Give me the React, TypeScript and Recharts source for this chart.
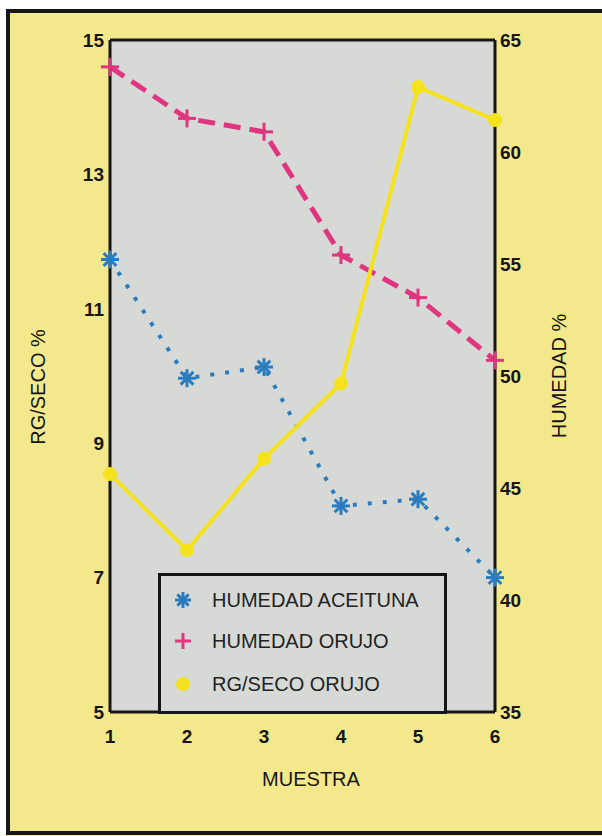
import React from 'react';
import { ComposedChart, Line, XAxis, YAxis, CartesianGrid, ReferenceLine, Legend, Label } from 'recharts';

const muestras = [1, 2, 3, 4, 5, 6];
const humedadAceituna = [55.2, 49.9, 50.4, 44.2, 44.5, 41.0];
const humedadOrujo = [63.8, 61.5, 60.9, 55.4, 53.5, 50.7];
const rgSecoOrujo = [8.54, 7.41, 8.77, 9.89, 14.3, 13.81];
const rgTicks = [5, 7, 9, 11, 13, 15];
const humedadTicks = [35, 40, 45, 50, 55, 60, 65];
const seriesNames = ['HUMEDAD ACEITUNA', 'HUMEDAD ORUJO', 'RG/SECO ORUJO'];

const data = muestras.map((m, i) => ({
  muestra: m,
  aceituna: humedadAceituna[i],
  orujo: humedadOrujo[i],
  rg: rgSecoOrujo[i],
}));

const YELLOW_BG = '#f3e98c';
const GRAY = '#d7d9d6';
const INK = '#161616';
const BLUE = '#2a7cc0';
const PINK = '#e0367f';
const YELLOW = '#f5e21e';
const FONT = '"Liberation Sans", Arial, Helvetica, sans-serif';

function Asterisk({ cx, cy, r = 8 }: { cx: number; cy: number; r?: number }) {
  return (
    <g>
      {[0, 45, 90, 135].map((a) => {
        const rad = (a * Math.PI) / 180;
        const dx = r * Math.cos(rad);
        const dy = r * Math.sin(rad);
        return <line key={a} x1={cx - dx} y1={cy - dy} x2={cx + dx} y2={cy + dy} stroke={BLUE} strokeWidth={3} />;
      })}
    </g>
  );
}

function Plus({ cx, cy, r = 8 }: { cx: number; cy: number; r?: number }) {
  return (
    <g>
      <line x1={cx - r} y1={cy} x2={cx + r} y2={cy} stroke={PINK} strokeWidth={3} />
      <line x1={cx} y1={cy - r} x2={cx} y2={cy + r} stroke={PINK} strokeWidth={3} />
    </g>
  );
}

function Dot({ cx, cy, r = 7 }: { cx: number; cy: number; r?: number }) {
  return <circle cx={cx} cy={cy} r={r} fill={YELLOW} />;
}

const icons = [Asterisk, Plus, Dot];
const rowCenters = [27, 68, 111];

function LegendBox() {
  return (
    <div
      style={{
        width: 289,
        height: 141,
        boxSizing: 'border-box',
        border: `3px solid ${INK}`,
        background: GRAY,
        position: 'relative',
        fontFamily: FONT,
      }}
    >
      {seriesNames.map((name, i) => {
        const Icon = icons[i];
        return (
          <div
            key={name}
            style={{ position: 'absolute', left: 0, top: rowCenters[i] - 3 - 14, height: 28, display: 'flex', alignItems: 'center' }}
          >
            <svg width={22} height={22} style={{ marginLeft: 11 }}>
              <Icon cx={11} cy={11} />
            </svg>
            <span style={{ marginLeft: 18, fontSize: 20, color: '#222', whiteSpace: 'nowrap' }}>{name}</span>
          </div>
        );
      })}
    </div>
  );
}

const tickStyle = { fontSize: 19, fontWeight: 700, fill: INK, fontFamily: FONT };
const axisLine = { stroke: INK, strokeWidth: 3 };

export default function App() {
  return (
    <div style={{ position: 'absolute', left: 0, top: 0, width: 602, height: 836, background: YELLOW_BG, overflow: 'hidden' }}>
      {/* white outside the frame, left and top only */}
      <div style={{ position: 'absolute', left: 0, top: 0, width: 602, height: 9, background: '#ffffff' }} />
      <div style={{ position: 'absolute', left: 0, top: 0, width: 6, height: 836, background: '#ffffff' }} />
      <div style={{ position: 'absolute', left: 6, top: 9, width: 596, height: 4, background: INK }} />
      <div style={{ position: 'absolute', left: 6, top: 9, width: 4, height: 826, background: INK }} />
      <div style={{ position: 'absolute', left: 6, top: 831, width: 596, height: 4, background: INK }} />
      <div style={{ position: 'absolute', left: 0, top: 0 }}>
        <ComposedChart width={602} height={836} data={data} margin={{ top: 40, right: 0, bottom: 0, left: 0 }}>
          <CartesianGrid fill={GRAY} fillOpacity={1} stroke="none" yAxisId="rg" />
          <XAxis
            dataKey="muestra"
            type="number"
            domain={[1, 6]}
            ticks={muestras}
            height={124}
            axisLine={axisLine}
            tickLine={false}
            tickSize={0}
            tickMargin={18}
            tick={tickStyle}
          >
            <Label
              content={() => (
                <text x={311} y={786} textAnchor="middle" fontSize={20} fill={INK} fontFamily={FONT}>
                  MUESTRA
                </text>
              )}
            />
          </XAxis>
          <YAxis
            yAxisId="rg"
            orientation="left"
            domain={[5, 15]}
            ticks={rgTicks}
            width={110}
            axisLine={axisLine}
            tickLine={false}
            tickSize={0}
            tickMargin={6}
            tick={tickStyle}
          >
            <Label
              content={() => (
                <text x={45} y={387} transform="rotate(-90 45 387)" textAnchor="middle" fontSize={20} fill={INK} fontFamily={FONT}>
                  RG/SECO %
                </text>
              )}
            />
          </YAxis>
          <YAxis
            yAxisId="hum"
            orientation="right"
            domain={[35, 65]}
            ticks={humedadTicks}
            width={107}
            axisLine={axisLine}
            tickLine={false}
            tickSize={0}
            tickMargin={5}
            tick={tickStyle}
          >
            <Label
              content={() => (
                <text x={566} y={376} transform="rotate(-90 566 376)" textAnchor="middle" fontSize={20} fill={INK} fontFamily={FONT}>
                  HUMEDAD %
                </text>
              )}
            />
          </YAxis>
          <ReferenceLine y={15} yAxisId="rg" stroke={INK} strokeWidth={3} />
          <Line
            yAxisId="hum"
            dataKey="aceituna"
            name={seriesNames[0]}
            type="linear"
            stroke={BLUE}
            strokeWidth={4}
            strokeDasharray="4 11"
            dot={(p: any) => <Asterisk key={`a-${p.index}`} cx={p.cx} cy={p.cy} r={9} />}
            activeDot={false}
            isAnimationActive={false}
          />
          <Line
            yAxisId="hum"
            dataKey="orujo"
            name={seriesNames[1]}
            type="linear"
            stroke={PINK}
            strokeWidth={5}
            strokeDasharray="17 9"
            dot={(p: any) => <Plus key={`o-${p.index}`} cx={p.cx} cy={p.cy} r={9} />}
            activeDot={false}
            isAnimationActive={false}
          />
          <Line
            yAxisId="rg"
            dataKey="rg"
            name={seriesNames[2]}
            type="linear"
            stroke={YELLOW}
            strokeWidth={4}
            dot={(p: any) => <Dot key={`r-${p.index}`} cx={p.cx} cy={p.cy} r={7} />}
            activeDot={false}
            isAnimationActive={false}
          />
          <Legend
            layout="horizontal"
            verticalAlign="middle"
            align="center"
            content={() => <LegendBox />}
            wrapperStyle={{ left: 158, top: 573, width: 289, height: 141 }}
          />
        </ComposedChart>
      </div>
    </div>
  );
}
